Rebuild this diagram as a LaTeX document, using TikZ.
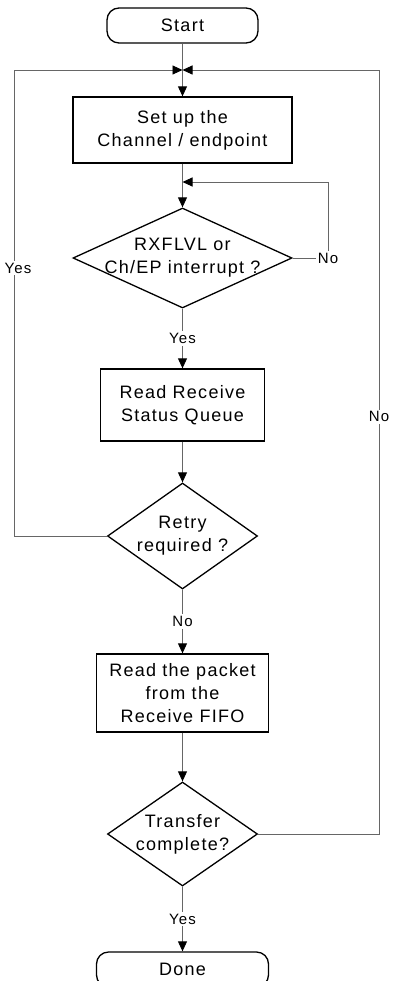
\documentclass[tikz,border=0pt]{standalone}
\usepackage{fontspec}
\setmainfont[LetterSpace=7]{Liberation Sans}
\usetikzlibrary{shapes.geometric,arrows.meta}
\newcommand{\dtxt}[2]{\makebox[0pt]{#1}\\\makebox[0pt]{#2}}

\begin{document}
\begin{tikzpicture}[x=1pt,y=1pt,
  boxtext/.style={font=\fontsize{18}{23}\selectfont},
  term/.style={draw=black,line width=1.3pt,rounded corners=12pt,minimum width=151pt,minimum height=35pt,inner sep=0pt,boxtext},
  proc/.style={draw=black,line width=1.3pt,align=center,inner sep=0pt,boxtext},
  decide/.style={draw=black,line width=1.3pt,diamond,aspect=1,align=center,inner sep=0pt,boxtext},
  conn/.style={draw=black!60,line width=0.9pt},
  arr/.style={conn,-{Triangle[length=10pt,width=9pt,black]}},
  lbl/.style={fill=white,inner sep=2pt,font=\fontsize{15}{17}\selectfont}]
\useasboundingbox (0,0) rectangle (392,-981);
\node[term] (start) at (182.5,-25.5) {Start};
\node[proc,minimum width=219pt,minimum height=66pt] (setup) at (182.5,-130) {Set up the\\Channel / endpoint};
\node[decide,minimum width=219pt,minimum height=100pt] (rxlvl) at (182.5,-258) {\dtxt{RXFLVL or}{Ch/EP interrupt ?}};
\node[proc,minimum width=164pt,minimum height=72pt] (rdstat) at (182.5,-405) {Read Receive\\Status Queue};
\node[decide,minimum width=150pt,minimum height=106pt] (retry) at (182.5,-536) {\dtxt{Retry}{required ?}};
\node[proc,minimum width=172pt,minimum height=78pt] (rdpkt) at (182.5,-693) {Read the packet\\from the\\Receive FIFO};
\node[decide,minimum width=150pt,minimum height=104pt] (xfer) at (182.5,-834) {\dtxt{Transfer}{complete?}};
\node[term,minimum width=172pt] (done) at (182.5,-969.5) {Done};
\coordinate (jtop) at (182.5,-70);
\coordinate (jloop) at (182.5,-182);

\draw[arr] (start) -- (setup);
\draw[arr] (setup) -- (rxlvl);
\draw[arr] (rxlvl) -- node[lbl] {Yes} (rdstat);
\draw[arr] (rdstat) -- (retry);
\draw[arr] (retry) -- node[lbl] {No} (rdpkt);
\draw[arr] (rdpkt) -- (xfer);
\draw[arr] (xfer) -- node[lbl] {Yes} (done);
% loops back
\draw[arr] (rxlvl.east) -- (328,-258) node[lbl] {No} -- (328,-182) -- (jloop);
\draw[arr] (retry.west) -- (14,-536) -- node[lbl,pos=0.575,xshift=4pt] {Yes} (14,-70) -- (jtop);
\draw[arr] (xfer.east) -- (379,-834) -- node[lbl,pos=0.546] {No} (379,-70) -- (jtop);
\end{tikzpicture}
\end{document}
